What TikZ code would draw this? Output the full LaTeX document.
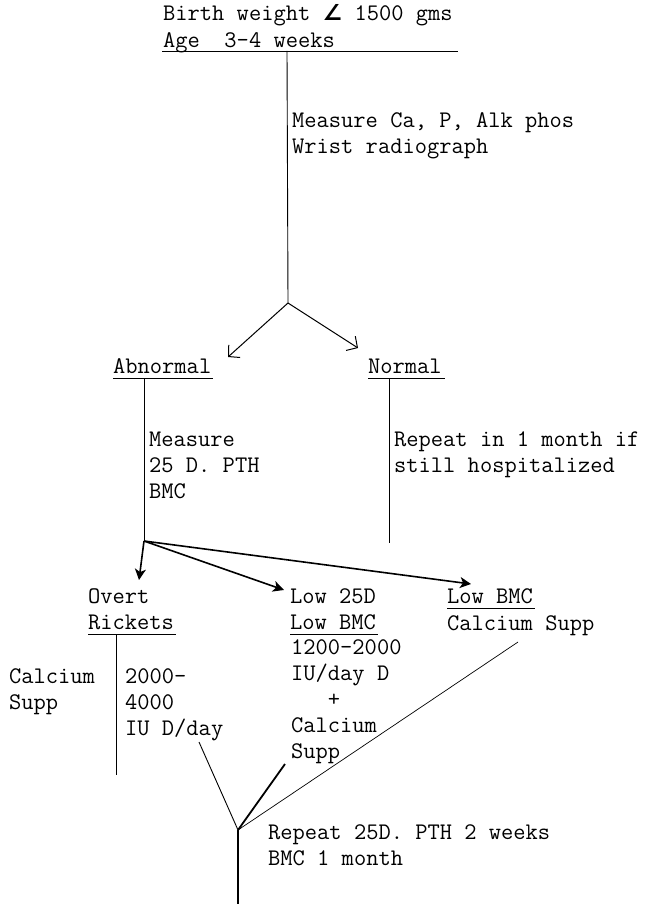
\documentclass[tikz,border=0pt]{standalone}
\usepackage{fontspec}
\usetikzlibrary{arrows.meta}
\newfontfamily\symb{DejaVu Sans}
\newcommand\flowtxt{\ttfamily\fontsize{23.8}{26}\selectfont}
\tikzset{
  line/.style={line width=0.9pt},
  heavy/.style={line width=1.8pt},
  open arrow/.style={-{Straight Barb[length=8pt,width=17pt]}, line width=1pt},
  fat arrow/.style={-{Stealth[length=11pt,width=11pt,inset=3pt]}, line width=1.6pt},
  lbl/.style={anchor=base west, inner sep=0pt, font=\flowtxt},
  blk/.style={anchor=north west, inner sep=0pt, align=left, font=\flowtxt},
}
\begin{document}
\begin{tikzpicture}[x=1pt,y=1pt]
      \useasboundingbox (0,0) rectangle (654,-904);
      \draw
        (163,-21) node[lbl] (bw){Birth weight {\symb\bfseries\fontsize{22}{26}\selectfont ∠} 1500 gms}
        (163,-48) node[lbl] (age){Age\ \ 3-4 weeks}
        (292,-112.5) node[blk] (mca){Measure Ca, P, Alk phos\\Wrist radiograph}
        (113,-373) node[lbl] (abn){Abnormal}
        (368,-373) node[lbl] (nrm){Normal}
        (149,-431.5) node[blk] (msr){Measure\\25 D. PTH\\BMC}
        (394,-431.5) node[blk] (rpt){Repeat in 1 month if\\still hospitalized}
        (88,-603) node[lbl] (ovt){Overt}
        (88,-629) node[lbl] (rck){Rickets}
        (290,-603) node[lbl] (l25){Low 25D}
        (290,-629) node[lbl] (lbm){Low BMC}
        (291,-639.5) node[blk] (dose){1200-2000\\IU/day D\\\phantom{000}+\\Calcium\\Supp}
        (447,-603) node[lbl] (lbr){Low BMC}
        (447,-630) node[lbl] (csp){Calcium Supp}
        (9,-668.5) node[blk] (cal){Calcium\\Supp}
        (125,-668.5) node[blk] (d24){2000-\\4000\\IU D/day}
        (268,-824.5) node[blk] (fin){Repeat 25D. PTH 2 weeks\\BMC 1 month};
      \coordinate (t0) at (287,-51);
      \coordinate (s1) at (288,-303);
      \coordinate (a1) at (228,-357);
      \coordinate (a2) at (358,-348);
      \coordinate (v1) at (144,-379);
      \coordinate (s2) at (144,-541);
      \coordinate (v2) at (389,-379);
      \coordinate (v2e) at (389,-543);
      \coordinate (b1) at (139,-580);
      \coordinate (b2) at (284,-590);
      \coordinate (b3) at (471,-584);
      \coordinate (r0) at (116,-634);
      \coordinate (r1) at (116,-775);
      \coordinate (e1) at (199,-742);
      \coordinate (e2) at (285,-764);
      \coordinate (e3) at (518,-642);
      \coordinate (j) at (238,-830);
      \coordinate (jend) at (238,-904);
      \begin{scope}[line]
        \draw (162,-51) -- (458,-51);
        \draw ([yshift=-5pt]abn.base west) -- ([xshift=2pt,yshift=-5pt]abn.base east);
        \draw ([yshift=-5pt]nrm.base west) -- ([xshift=3pt,yshift=-5pt]nrm.base east);
        \draw ([yshift=-5pt]rck.base west) -- ([xshift=2pt,yshift=-5pt]rck.base east);
        \draw ([yshift=-5pt]lbm.base west) -- ([xshift=2pt,yshift=-5pt]lbm.base east);
        \draw ([yshift=-5pt]lbr.base west) -- ([xshift=2pt,yshift=-5pt]lbr.base east);
        \draw (t0) -- (s1);
        \draw (v1) -- (s2);
        \draw (v2) -- (v2e);
        \draw (r0) -- (r1);
        \draw (e1) -- (j);
        \draw[line width=0.7pt] (e3) -- (j);
        \draw[heavy] (e2) -- (j);
        \draw[heavy] (j) -- (jend);
      \end{scope}
      \begin{scope}[open arrow]
        \draw (s1) to (a1);
        \draw (s1) to (a2);
      \end{scope}
      \begin{scope}[fat arrow]
        \draw (s2) to (b1);
        \draw (s2) to (b2);
        \draw (s2) to (b3);
      \end{scope}
    \end{tikzpicture}
\end{document}
